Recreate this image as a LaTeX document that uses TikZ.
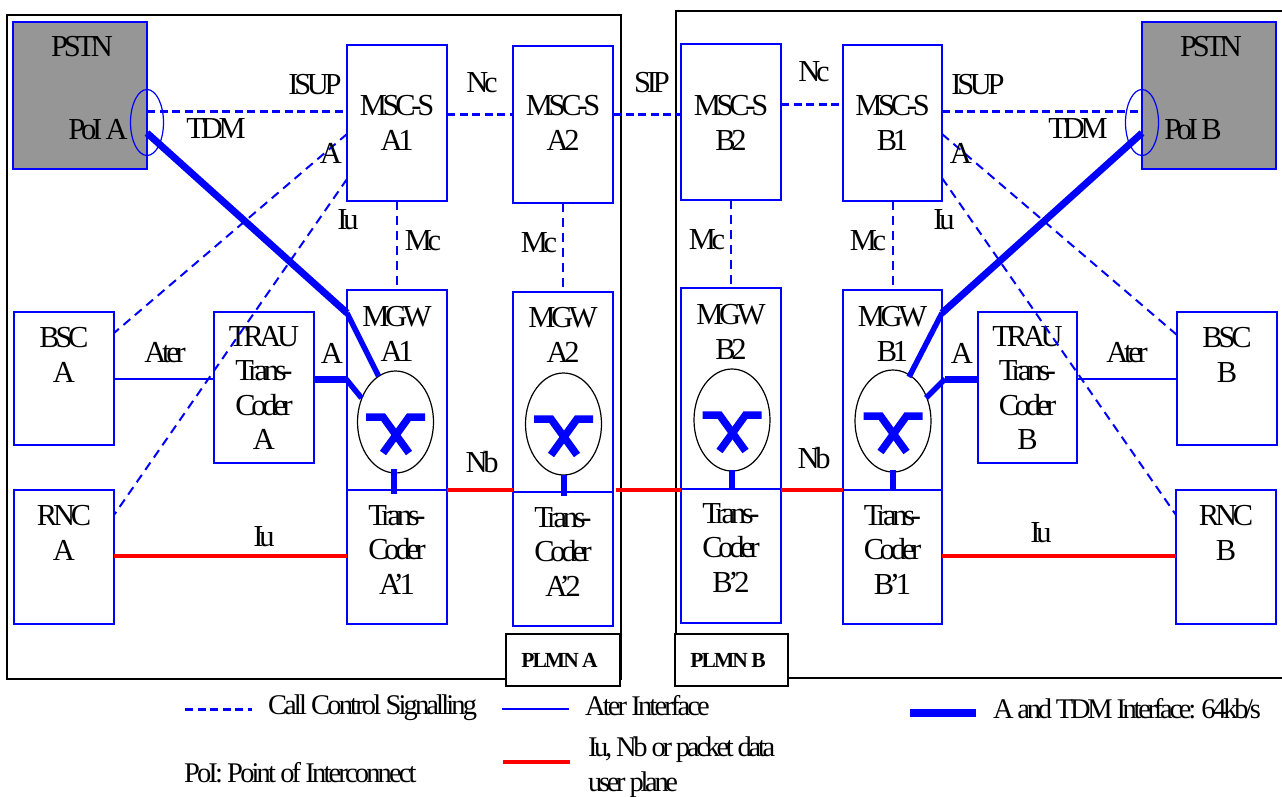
\documentclass[tikz,border=0pt]{standalone}
\usepackage{fontspec}
\setmainfont[LetterSpace=-14]{Liberation Serif}
\newfontfamily\legfont[LetterSpace=-11.5]{Liberation Serif}
\newfontfamily\legwidefont[LetterSpace=-10]{Liberation Serif}
\newfontfamily\plmnfont[LetterSpace=-9]{Liberation Serif}
\definecolor{netblue}{RGB}{0,0,255}
\definecolor{pstngray}{RGB}{150,150,150}
\tikzset{
  frameline/.style={draw=black,line width=1.4pt},
  boxn/.style={draw=netblue,line width=1.6pt,inner sep=0pt,outer sep=0pt,rectangle},
  lbl/.style={inner sep=0pt,outer sep=0pt,align=center,text=black,font=\fontsize{30.5}{34.5}\selectfont},
  leg/.style={inner sep=0pt,outer sep=0pt,align=left,anchor=west,text=black,font=\legfont\fontsize{28.5}{35}\selectfont},
  legwide/.style={leg,font=\legwidefont\fontsize{28.5}{35}\selectfont},
  plmn/.style={draw=black,fill=white,line width=1.4pt,inner sep=0pt,outer sep=0pt,rectangle,font=\plmnfont\fontsize{21.5}{24}\selectfont\bfseries},
  poi/.style={draw=netblue,line width=1.2pt,ellipse,inner sep=0pt,outer sep=0pt,minimum width=33pt,minimum height=66pt},
  gw/.style={draw=black,fill=white,line width=1.2pt,ellipse,inner sep=0pt,outer sep=0pt,minimum width=76pt,minimum height=102pt},
  sigdash/.style={draw=netblue,line width=3pt,dash pattern=on 8pt off 4.5pt},
  thindash/.style={draw=netblue,line width=2pt,dash pattern=on 9pt off 6pt},
  aterline/.style={draw=netblue,line width=2pt},
  tdmline/.style={draw=netblue,line width=7pt},
  tdmthin/.style={draw=netblue,line width=5.5pt},
  legthick/.style={draw=netblue,line width=8pt},
  ipline/.style={draw=red,line width=3.5pt},
  xline/.style={draw=netblue,line width=7.5pt,line join=miter},
  stem/.style={draw=netblue,line width=6pt}
}
\usetikzlibrary{shapes.geometric,calc}
% name, x1, y1, x2, y2, extra style, text y, text
\newcommand{\mybox}[8]{%
  \pgfmathsetmacro{\bw}{#4-#2}\pgfmathsetmacro{\bh}{#5-#3}%
  \pgfmathsetmacro{\bx}{(#2+#4)/2}\pgfmathsetmacro{\by}{(#3+#5)/2}%
  \node[boxn,minimum width=\bw pt,minimum height=\bh pt,#6] (#1) at (\bx,\by) {};%
  \node[lbl] (#1-t) at (\bx,#7) {#8};%
}
\newcommand{\xsym}[1]{%
  \draw[xline] ([shift={(-29.5,-5)}]#1.center) -- ([shift={(-12.5,-5)}]#1.center) -- ([shift={(13.5,31)}]#1.center);
  \draw[xline] ([shift={(29.5,-5)}]#1.center) -- ([shift={(13.5,-5)}]#1.center) -- ([shift={(-12.5,31)}]#1.center);
}
\begin{document}
\begin{tikzpicture}[x=1pt,y=-1pt]
\useasboundingbox (0,0) rectangle (1282,796);
% network frames
\draw[frameline] (7,15) rectangle (621,679);
\draw[frameline] (1282,11) -- (676,11) -- (676,678) -- (1282,678);
\node[plmn,minimum width=114pt,minimum height=52pt] (plmnA) at (563,660) {\hspace*{-7pt}PLMN A};
\node[plmn,minimum width=113pt,minimum height=52pt] (plmnB) at (731.5,660) {\hspace*{-7pt}PLMN B};
% boxes
\mybox{pstnA}{13}{22}{147}{169}{fill=pstngray}{47}{}
\mybox{pstnB}{1142}{22}{1276}{169}{fill=pstngray}{47}{}
\mybox{mscA1}{347}{45}{447}{201}{}{123}{MSC-S\\A1}
\mybox{mscA2}{513}{46}{613}{203}{}{123}{MSC-S\\A2}
\mybox{mscB2}{681}{44}{781}{200}{}{123}{MSC-S\\B2}
\mybox{mscB1}{843}{45}{942}{201}{}{123}{MSC-S\\B1}
\mybox{mgwA1}{347}{290}{447}{490}{}{334}{MGW\\A1}
\mybox{mgwA2}{513}{292}{613}{492}{}{335}{MGW\\A2}
\mybox{mgwB2}{681}{288}{781}{489}{}{332}{MGW\\B2}
\mybox{mgwB1}{843}{290}{942}{490}{}{334}{MGW\\B1}
\mybox{tcA1}{347}{490}{447}{624}{}{550}{Trans-\\Coder\\A’1}
\mybox{tcA2}{513}{492}{613}{626}{}{552}{Trans-\\Coder\\A’2}
\mybox{tcB2}{681}{489}{781}{623}{}{548}{Trans-\\Coder\\B’2}
\mybox{tcB1}{843}{490}{942}{624}{}{550}{Trans-\\Coder\\B’1}
\mybox{bscA}{14}{312}{114}{445}{}{355}{BSC\\A}
\mybox{rncA}{14}{490}{114}{624}{}{533}{RNC\\A}
\mybox{trauA}{214}{312}{314}{463}{}{388}{TRAU\\Trans-\\Coder\\A}
\mybox{trauB}{978}{312}{1077}{463}{}{388}{TRAU\\Trans-\\Coder\\B}
\mybox{bscB}{1177}{312}{1277}{445}{}{355}{BSC\\B}
\mybox{rncB}{1176}{490}{1276}{624}{}{533}{RNC\\B}
% PSTN texts
\node[lbl] (pstnAname) at (82,47) {PSTN};
\node[lbl] (pstnBname) at (1211,47) {PSTN};
\node[lbl] (poiAname) at (98,130) {PoI A};
\node[lbl] (poiBname) at (1193,130) {PoI B};
% PoI ellipses
\node[poi] (poiA) at (147,122.5) {};
\node[poi] (poiB) at (1142,122.5) {};
% signalling
\draw[sigdash] (poiA.center |- 0,111) -- (mscA1.west |- 0,111);
\draw[sigdash] (mscB1.east |- 0,111) -- (poiB.center |- 0,111);
\draw[sigdash] (mscA1.east |- 0,114) -- (mscA2.west |- 0,114);
\draw[sigdash] (mscA2.east |- 0,114) -- (mscB2.west |- 0,114);
\draw[sigdash] (mscB2.east |- 0,104) -- (mscB1.west |- 0,104);
\draw[thindash] (mscA1.south) -- (mscA1.south |- mgwA1.north);
\draw[thindash] (mscA2.south) -- (mscA2.south |- mgwA2.north);
\draw[thindash] (mscB2.south) -- (mscB2.south |- mgwB2.north);
\draw[thindash] (mscB1.south) -- (mscB1.south |- mgwB1.north);
\draw[thindash] (mscA1.west |- 0,134) -- (bscA.east |- 0,333);
\draw[thindash] (mscA1.west |- 0,179) -- (rncA.east |- 0,515);
\draw[thindash] (mscB1.east |- 0,134) -- (bscB.west |- 0,335);
\draw[thindash] (mscB1.east |- 0,178) -- (rncB.west |- 0,515);
% gateways
\node[gw] (gwA1) at (395.5,422) {};
\node[gw] (gwA2) at (563.5,424) {};
\node[gw] (gwB2) at (732,420) {};
\node[gw] (gwB1) at (893,421) {};
% TDM lines
\coordinate (kneeA) at (347,313);
\coordinate (kneeB) at (942,313);
\draw[tdmline] (poiA.center |- 0,133) -- (kneeA);
\draw[tdmthin] (kneeA) -- ([shift={(-17,-46)}]gwA1.center);
\draw[tdmline] (poiB.center |- 0,133) -- (kneeB);
\draw[tdmthin] (kneeB) -- ([shift={(16,-44)}]gwB1.center);
\coordinate (kneeAa) at (346,379);
\coordinate (kneeBa) at (945,379);
\draw[tdmline] (trauA.east |- kneeAa) -- (kneeAa);
\draw[tdmthin] (kneeAa) -- ([shift={(-34,-24)}]gwA1.center);
\draw[tdmline] (trauB.west |- kneeBa) -- (kneeBa);
\draw[tdmthin] (kneeBa) -- ([shift={(33,-23)}]gwB1.center);
% Ater
\draw[aterline] (bscA.east |- 0,379) -- (trauA.west |- 0,379);
\draw[aterline] (trauB.east |- 0,379) -- (bscB.west |- 0,379);
% cross symbols
\xsym{gwA1}\xsym{gwA2}\xsym{gwB2}\xsym{gwB1}
\draw[stem] (gwA1.south -| tcA1.north) ++(-3,-4) -- ++(0,25);
\draw[stem] (gwA2.south) ++(0.5,0) -- ++(0,21);
\draw[stem] (gwB2.center |- 0,470) -- (gwB2.center |- tcB2.north);
\draw[stem] (gwB1.center |- 0,470) -- (gwB1.center |- tcB1.north);
% packet lines
\draw[ipline] (tcA1.north east) -- (tcA2.north west |- tcA1.north east);
\draw[ipline] (616,490) -- (tcB2.north west |- 0,490);
\draw[ipline] (tcB2.north east |- 0,490) -- (tcB1.north west |- 0,490);
\draw[ipline] (rncA.east |- 0,556) -- (tcA1.west |- 0,556);
\draw[ipline] (tcB1.east |- 0,556) -- (rncB.west |- 0,556);
% interface labels
\node[lbl] (l1) at (315,85) {ISUP};
\node[lbl] (l2) at (482,83) {Nc};
\node[lbl] (l3) at (652,83) {SIP};
\node[lbl] (l4) at (814,72) {Nc};
\node[lbl] (l5) at (978,85) {ISUP};
\node[lbl] (l6) at (216,129) {TDM};
\node[lbl] (l7) at (1078,129) {TDM};
\node[lbl] (l8) at (331,153) {A};
\node[lbl] (l9) at (961,153) {A};
\node[lbl] (l10) at (348,220) {Iu};
\node[lbl] (l11) at (944,220) {Iu};
\node[lbl] (l12) at (423,241) {Mc};
\node[lbl] (l13) at (539,243) {Mc};
\node[lbl] (l14) at (707,240) {Mc};
\node[lbl] (l15) at (868,241) {Mc};
\node[lbl] (l16) at (165,353) {Ater};
\node[lbl] (l17) at (332,353) {A};
\node[lbl] (l18) at (962,353) {A};
\node[lbl] (l19) at (1127,353) {Ater};
\node[lbl] (l20) at (482,462) {Nb};
\node[lbl] (l21) at (814,458) {Nb};
\node[lbl] (l22) at (264,537) {Iu};
\node[lbl] (l23) at (1041,533) {Iu};
% legend
\coordinate (lg1a) at (185,709); \coordinate (lg1b) at (252,709);
\coordinate (lg2a) at (502,709); \coordinate (lg2b) at (569,709);
\coordinate (lg3a) at (503,762); \coordinate (lg3b) at (570,762);
\coordinate (lg4a) at (910,713); \coordinate (lg4b) at (976,713);
\draw[sigdash] (lg1a) -- (lg1b);
\draw[aterline] (lg2a) -- (lg2b);
\draw[ipline] (lg3a) -- (lg3b);
\draw[legthick] (lg4a) -- (lg4b);
\node[legwide] (t1) at (268,708) {Call Control Signalling};
\node[legwide] (t2) at (585,706) {Ater Interface};
\node[leg] (t3) at (588,767) {Iu, Nb or packet data\\user plane};
\node[legwide] (t4) at (184,773) {PoI: Point of Interconnect};
\node[leg] (t5) at (993,709) {A and TDM Interface: 64kb/s};
\end{tikzpicture}
\end{document}
